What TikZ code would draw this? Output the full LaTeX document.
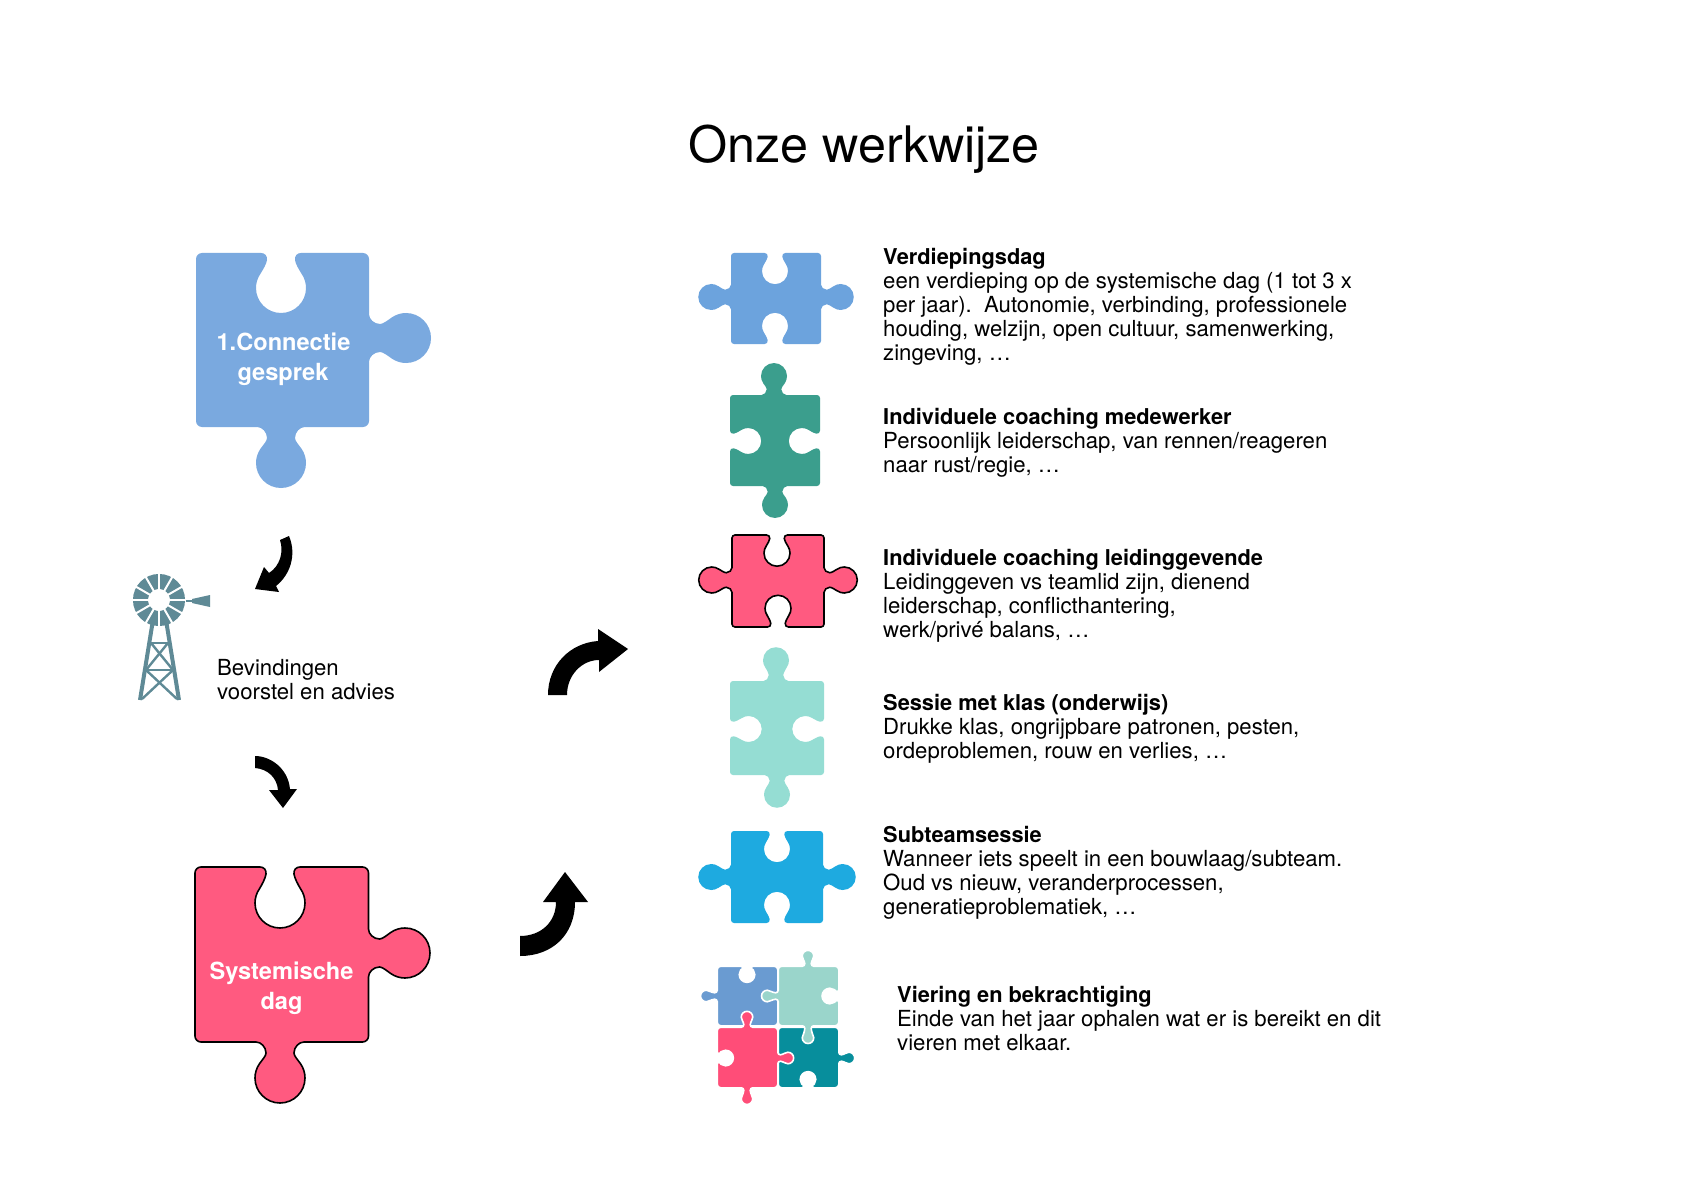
\documentclass[tikz,border=0pt]{standalone}
\usepackage{fontspec}
\setmainfont{TeX Gyre Heros}
\definecolor{cblue}{HTML}{7AA9DF}
\definecolor{cblues}{HTML}{6CA3DD}
\definecolor{cpink}{HTML}{FF5A80}
\definecolor{cteal}{HTML}{3B9E8D}
\definecolor{cmint}{HTML}{95DDD3}
\definecolor{ccyan}{HTML}{1EAAE0}
\definecolor{gblue}{HTML}{6A9BD1}
\definecolor{gmint}{HTML}{9AD5CB}
\definecolor{gpink}{HTML}{FF4D78}
\definecolor{gteal}{HTML}{078E9C}
\definecolor{mill}{HTML}{5F8A96}
\newcommand\headtxt[1]{{\fontsize{21.8}{24}\selectfont\bfseries #1}}
\tikzset{
  body/.style={anchor=north west,inner sep=0pt,align=left,text=black,font=\fontsize{22.15}{24}\selectfont},
  bigtxt/.style={anchor=base,inner sep=0pt,text=white,font=\fontsize{23.6}{28}\selectfont\bfseries},
  titletxt/.style={anchor=base,inner sep=0pt,text=black,font=\fontsize{50.3}{60}\selectfont},
  plain/.style={draw=none},
  outlined/.style={draw=black,line width=1.6pt},
  tile/.style={draw=white,line width=1.6pt},
  millbar/.style={draw=mill,line width=2.4pt},
  millleg/.style={draw=mill,line width=4pt},
  blockarrow/.style={fill=black,draw=none}
}
% tab: #1,#2 origin on edge, #3..#6 unit frame, #7 depth of the knob centre
\def\kT#1#2#3#4#5#6#7{{[shift={(#1,#2)},x={({#3*\ps*1pt},{#4*\ps*1pt})},y={({#5*\ps*1pt},{#6*\ps*1pt})}]
  -- (-24,0) .. controls (-19,0) and (-14,5) .. (-14,11)
  .. controls (-14,14) and (-17.6,{#7-18.4}) .. (-20.5,{#7-14.3})
  .. controls (-23.5,{#7-10}) and (-25,{#7-5}) .. (-25,#7)
  .. controls (-25,{#7+13.8}) and (-13.8,{#7+25}) .. (0,{#7+25})
  .. controls (13.8,{#7+25}) and (25,{#7+13.8}) .. (25,#7)
  .. controls (25,{#7-5}) and (23.5,{#7-10}) .. (20.5,{#7-14.3})
  .. controls (17.6,{#7-18.4}) and (14,14) .. (14,11)
  .. controls (14,5) and (19,0) .. (24,0)}}
% hole
\def\kH#1#2#3#4#5#6#7{{[shift={(#1,#2)},x={({#3*\ps*\hf*1pt},{#4*\ps*\hf*1pt})},y={({#5*\ps*\hf*1pt},{#6*\ps*\hf*1pt})}]
  -- (-20,0) .. controls (-16,0) and (-13.5,-3) .. (-14,-7)
  .. controls (-14.5,-11) and (-18,{-#7+18.4}) .. (-20.5,{-#7+14.3})
  .. controls (-23.5,{-#7+10}) and (-25,{-#7+5}) .. (-25,-#7)
  .. controls (-25,{-#7-13.8}) and (-13.8,{-#7-25}) .. (0,{-#7-25})
  .. controls (13.8,{-#7-25}) and (25,{-#7-13.8}) .. (25,-#7)
  .. controls (25,{-#7+5}) and (23.5,{-#7+10}) .. (20.5,{-#7+14.3})
  .. controls (18,{-#7+18.4}) and (14.5,-11) .. (14,-7)
  .. controls (13.5,-3) and (16,0) .. (20,0)}}
% flat
\def\kF#1#2#3#4#5#6#7{}
% piece: #1 style, #2-#5 x0 y0 x1 y1, then sides as \kind{position}{depth}
\newcommand\pce[5]{\tikzset{curpiece/.style={#1}}\def\xa{#2}\def\ya{#3}\def\xb{#4}\def\yb{#5}\pceb}
\newcommand\pceb[4]{%
  \draw[curpiece] ({\xa+\pr},\ya) \sideT#1
   -- ({\xb-\pr},\ya) .. controls ({\xb-.45*\pr},\ya) and (\xb,{\ya+.45*\pr}) .. (\xb,{\ya+\pr})
   \sideR#2
   -- (\xb,{\yb-\pr}) .. controls (\xb,{\yb-.45*\pr}) and ({\xb-.45*\pr},\yb) .. ({\xb-\pr},\yb)
   \sideB#3
   -- ({\xa+\pr},\yb) .. controls ({\xa+.45*\pr},\yb) and (\xa,{\yb-.45*\pr}) .. (\xa,{\yb-\pr})
   \sideL#4
   -- (\xa,{\ya+\pr}) .. controls (\xa,{\ya+.45*\pr}) and ({\xa+.45*\pr},\ya) .. ({\xa+\pr},\ya) -- cycle;}
\def\sideT#1#2#3{#1{#2}{\ya}{1}{0}{0}{1}{#3}}
\def\sideR#1#2#3{#1{\xb}{#2}{0}{-1}{1}{0}{#3}}
\def\sideB#1#2#3{#1{#2}{\yb}{-1}{0}{0}{-1}{#3}}
\def\sideL#1#2#3{#1{\xa}{#2}{0}{1}{-1}{0}{#3}}
\def\hf{1}
\begin{document}
\begin{tikzpicture}[x=1pt,y=-1pt]
\useasboundingbox (0,0) rectangle (1684,1190);
\fill[white] (0,0) rectangle (1684,1190);

\node[titletxt] (title) at (864,163) {Onze werkwijze};

% large pieces
\def\ps{1}\def\pr{6}
\pce{plain,fill=cblue}{196}{253}{369}{427}{\kH{281}{35}}{\kT{338}{37}}{\kT{281}{36}}{\kF{0}{0}}
\pce{outlined,fill=cpink}{195}{867}{368.5}{1042}{\kH{280}{36}}{\kT{953}{36.5}}{\kT{280}{36}}{\kF{0}{0}}
\node[bigtxt] (conn1) at (283.5,350) {1.Connectie};
\node[bigtxt] (conn2) at (283,380) {gesprek};
\node[bigtxt] (sys1) at (281.5,979) {Systemische};
\node[bigtxt] (sys2) at (281.5,1009) {dag};

% small pieces
\def\ps{0.52}\def\pr{3}
\pce{plain,fill=cblues}{731}{253}{821}{344}{\kH{775}{35}}{\kT{297}{38}}{\kH{775}{35}}{\kT{297}{38}}
\pce{plain,fill=cteal}{730}{395}{820}{486}{\kT{774}{36.5}}{\kH{441}{35}}{\kT{775}{36.5}}{\kH{441}{35}}
\pce{outlined,fill=cpink}{732}{535}{824}{627}{\kH{777}{35}}{\kT{580}{39}}{\kH{778}{36}}{\kT{580}{39}}
\pce{plain,fill=cmint}{730}{681}{824}{775}{\kT{776}{40}}{\kH{729}{36}}{\kT{777}{38}}{\kH{729}{36}}
\pce{plain,fill=ccyan}{731}{831}{823}{923}{\kH{777}{35}}{\kT{877}{38}}{\kH{777}{35}}{\kT{877}{38}}

% group of four
\begin{scope}
\def\ps{0.23}\def\pr{3.5}\def\hf{1.35}
\pce{tile,fill=gblue}{717.2}{966.2}{777.8}{1025.8}{\kH{747}{27}}{\kF{0}{0}}{\kF{0}{0}}{\kT{996}{47.5}}
\pce{tile,fill=gteal}{778.2}{1027.2}{838.8}{1087.8}{\kF{0}{0}}{\kT{1058}{44}}{\kH{808}{27}}{\kF{0}{0}}
\pce{tile,fill=gmint}{778.2}{966.2}{838.8}{1025.8}{\kT{808}{44}}{\kH{996}{29}}{\kT{808}{52}}{\kT{996}{47.5}}
\pce{tile,fill=gpink}{717.2}{1027.2}{777.8}{1087.8}{\kT{747}{44}}{\kT{1058}{44}}{\kT{747}{47.5}}{\kH{1058}{27}}
\end{scope}

% windmill
\draw[millleg] (153,620) -- (140,700);
\draw[millleg] (166,620) -- (179,700);
\draw[millbar] (149,643) -- (170,643);
\draw[millbar] (146,670) -- (173,670);
\draw[millbar] (151,643) -- (173,670);
\draw[millbar] (168,643) -- (146,670);
\draw[millbar] (146,670) -- (177,699);
\draw[millbar] (173,670) -- (142,699);
\draw[mill,line width=15pt] (159,600) circle[radius=18.5];
\foreach \a in {0,30,...,330}{\draw[white,line width=2pt] (159,600) ++({\a}:9pt) -- ++({\a}:20pt);}
\draw[mill,line width=1.6pt] (186,601) -- (196,601);
\fill[mill] (192,599) -- (210,595) -- (210,607) -- (192,603) -- cycle;

% block arrows
\fill[blockarrow] (280,540) .. controls (284,552) and (280,566) .. (269,573) -- (264,567) -- (255,589) -- (279,592) -- (276,586)
  .. controls (290,575) and (297,555) .. (289,536) -- cycle;
\fill[blockarrow] (255,756) .. controls (270,756) and (288,768) .. (290,789) -- (297,789) -- (283,808) -- (269,790) -- (278,790)
  .. controls (277,778) and (268,769) .. (255,768) -- cycle;
\fill[blockarrow] (548,695) .. controls (548,665) and (570,643) .. (598,641) -- (598,629) -- (628,649) -- (599,672) -- (599,660)
  .. controls (582,660) and (567,675) .. (567,695) -- cycle;
\fill[blockarrow] (520,956) .. controls (552,956) and (575,935) .. (575,902) -- (588,902) -- (565,872) -- (543,902) -- (556,902)
  .. controls (556,922) and (541,936) .. (520,936) -- cycle;

% texts
\node[body] (bev) at (217,{675-16.8}) {\strut Bevindingen\\voorstel en advies};
\node[body] (t1) at (883,{264-16.8}) {\strut\headtxt{Verdiepingsdag}\\een verdieping op de systemische dag (1 tot 3 x\\per jaar).\ \ Autonomie, verbinding, professionele\\houding, welzijn, open cultuur, samenwerking,\\zingeving, …};
\node[body] (t2) at (883,{424-16.8}) {\strut\headtxt{Individuele coaching medewerker}\\Persoonlijk leiderschap, van rennen/reageren\\naar rust/regie, …};
\node[body] (t3) at (883,{565-16.8}) {\strut\headtxt{Individuele coaching leidinggevende}\\Leidinggeven vs teamlid zijn, dienend\\leiderschap, conflicthantering,\\werk/privé balans, …};
\node[body] (t4) at (883,{710-16.8}) {\strut\headtxt{Sessie met klas (onderwijs)}\\Drukke klas, ongrijpbare patronen, pesten,\\ordeproblemen, rouw en verlies, …};
\node[body] (t5) at (883,{842-16.8}) {\strut\headtxt{Subteamsessie}\\Wanneer iets speelt in een bouwlaag/subteam.\\Oud vs nieuw, veranderprocessen,\\generatieproblematiek, …};
\node[body] (t6) at (897,{1002-16.8}) {\strut\headtxt{Viering en bekrachtiging}\\Einde van het jaar ophalen wat er is bereikt en dit\\vieren met elkaar.};
\end{tikzpicture}
\end{document}
